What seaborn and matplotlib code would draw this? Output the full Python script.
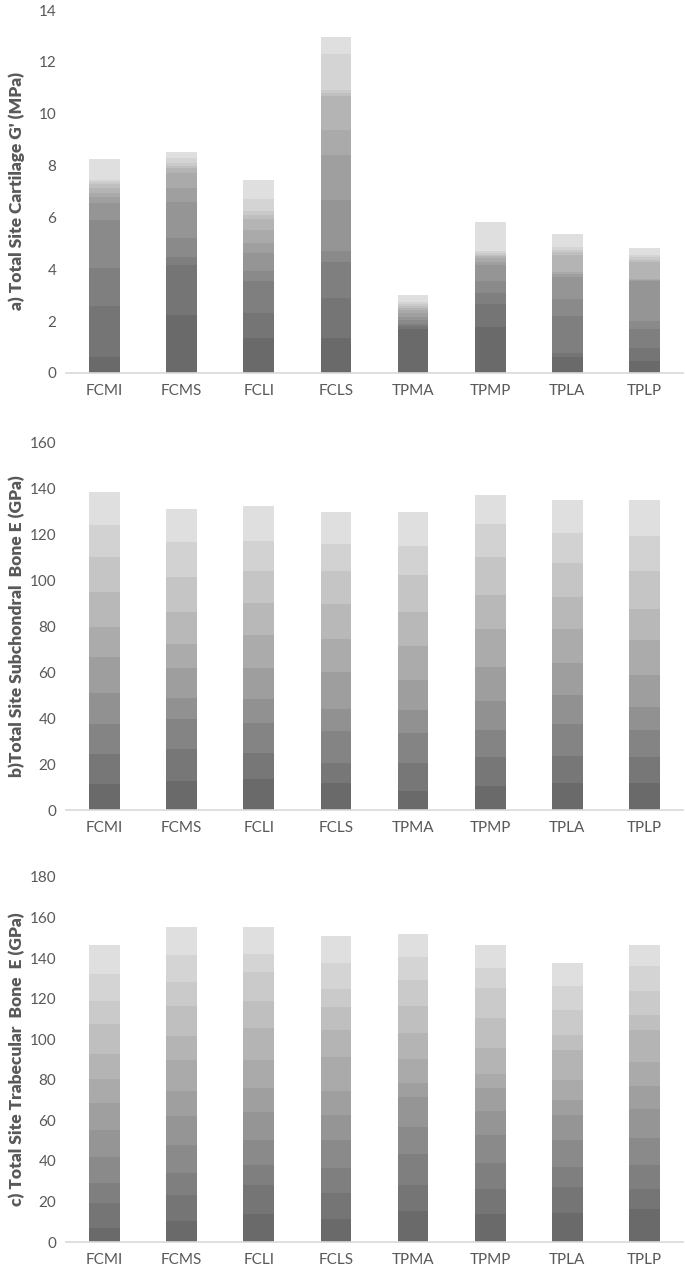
import numpy as np
import pandas as pd
import matplotlib
matplotlib.use("Agg")
import matplotlib.pyplot as plt
import seaborn as sns

sites = ["FCMI", "FCMS", "FCLI", "FCLS", "TPMA", "TPMP", "TPLA", "TPLP"]

# cumulative tops of each stacked layer, bottom layer first
cart_FCMI = [0.61, 2.60, 4.06, 5.89, 6.57, 6.79, 6.95, 7.13, 7.30, 7.37, 7.45, 8.25]
cart_FCMS = [2.24, 4.17, 4.49, 5.20, 6.58, 7.13, 7.71, 7.90, 8.00, 8.10, 8.30, 8.52]
cart_FCLI = [1.34, 2.33, 3.55, 3.92, 4.62, 5.01, 5.50, 5.95, 6.10, 6.23, 6.72, 7.45]
cart_FCLS = [1.34, 2.88, 4.27, 4.72, 6.68, 8.42, 9.36, 10.70, 10.80, 10.93, 12.32, 12.96]
cart_TPMA = [1.69, 1.80, 1.90, 2.05, 2.17, 2.30, 2.43, 2.52, 2.58, 2.65, 2.72, 3.01]
cart_TPMP = [1.79, 2.66, 3.10, 3.56, 4.17, 4.30, 4.43, 4.50, 4.56, 4.64, 4.72, 5.82]
cart_TPLA = [0.63, 0.78, 2.21, 2.86, 3.72, 3.82, 3.91, 4.56, 4.65, 4.75, 4.85, 5.37]
cart_TPLP = [0.47, 0.95, 1.70, 2.01, 3.55, 3.58, 3.62, 4.27, 4.35, 4.47, 4.55, 4.84]

sub_FCMI = [11.3, 24.4, 37.5, 50.9, 66.6, 79.7, 95.0, 110.1, 124.1, 138.5]
sub_FCMS = [12.7, 26.5, 39.6, 49.0, 62.1, 72.4, 86.3, 101.5, 116.7, 131.2]
sub_FCLI = [13.4, 25.0, 37.8, 48.3, 62.1, 76.5, 90.3, 104.1, 117.4, 132.4]
sub_FCLS = [11.9, 20.7, 34.5, 44.2, 60.1, 74.6, 89.7, 104.1, 116.0, 129.9]
sub_TPMA = [8.4, 20.7, 33.7, 43.6, 56.7, 71.3, 86.4, 102.3, 115.3, 129.9]
sub_TPMP = [10.6, 23.3, 34.9, 47.6, 62.5, 79.1, 93.7, 110.1, 124.7, 137.2]
sub_TPLA = [11.9, 23.6, 37.5, 50.2, 64.0, 79.1, 93.0, 107.5, 120.7, 135.3]
sub_TPLP = [11.9, 23.3, 34.9, 45.1, 58.8, 73.9, 87.7, 104.1, 119.4, 135.3]

trab_FCMI = [7.1, 19.0, 29.3, 41.7, 55.0, 68.6, 80.5, 92.6, 107.4, 118.7, 132.2, 146.3]
trab_FCMS = [10.2, 23.0, 34.2, 47.6, 62.0, 74.7, 89.6, 101.5, 116.5, 128.4, 141.3, 155.4]
trab_FCLI = [13.7, 27.9, 38.0, 50.4, 64.0, 76.0, 89.6, 105.3, 118.7, 133.0, 142.0, 155.4]
trab_FCLS = [11.2, 24.3, 36.4, 50.4, 62.6, 74.7, 91.1, 104.6, 115.7, 124.8, 137.5, 150.9]
trab_TPMA = [15.4, 27.9, 43.3, 56.7, 71.6, 78.2, 90.2, 103.0, 116.5, 129.3, 140.5, 151.7]
trab_TPMP = [13.7, 26.0, 39.2, 52.9, 64.8, 76.0, 82.8, 95.5, 110.6, 125.5, 135.2, 146.3]
trab_TPLA = [14.5, 27.3, 37.2, 50.4, 62.6, 69.9, 79.8, 94.7, 102.3, 114.2, 126.3, 137.5]
trab_TPLP = [16.2, 26.0, 38.0, 51.4, 65.6, 76.9, 88.8, 104.6, 112.0, 123.9, 136.0, 146.3]

cartilage = [cart_FCMI, cart_FCMS, cart_FCLI, cart_FCLS, cart_TPMA, cart_TPMP, cart_TPLA, cart_TPLP]
subchondral = [sub_FCMI, sub_FCMS, sub_FCLI, sub_FCLS, sub_TPMA, sub_TPMP, sub_TPLA, sub_TPLP]
trabecular = [trab_FCMI, trab_FCMS, trab_FCLI, trab_FCLS, trab_TPMA, trab_TPMP, trab_TPLA, trab_TPLP]

sns.set_style("white")
plt.rcParams['font.family'] = ['Lato', 'DejaVu Sans']

W, H = 685, 1274
fig = plt.figure(figsize=(W / 100, H / 100), dpi=100)

text_col = '#595959'


def stacked(ax, tops, ymax, step, label):
    tops = np.array(tops)
    n_layers = tops.shape[1]
    greys = np.linspace(0x6a, 0xdf, n_layers)
    # draw the tallest cumulative layer first, darker ones over it
    for k in range(n_layers - 1, -1, -1):
        g = int(round(greys[k]))
        df = pd.DataFrame({'site': sites, 'value': tops[:, k]})
        sns.barplot(data=df, x='site', y='value', order=sites, ax=ax,
                    color='#%02x%02x%02x' % (g, g, g), saturation=1,
                    width=0.4, edgecolor='none', linewidth=0)
    ax.set_ylim(0, ymax)
    ax.set_xlim(-0.5, len(sites) - 0.5)
    ax.set_yticks(np.arange(0, ymax + 0.01, step))
    ax.set_xlabel('')
    ax.set_ylabel(label, fontsize=12.5, fontweight='heavy', color=text_col)
    ax.yaxis.set_label_coords(-0.066, 0.5)
    for s in ['top', 'right', 'left']:
        ax.spines[s].set_visible(False)
    ax.spines['bottom'].set_color('#d9d9d9')
    ax.spines['bottom'].set_linewidth(1.2)
    ax.tick_params(axis='both', length=0, labelsize=11, colors=text_col)
    ax.tick_params(axis='x', pad=8)
    ax.tick_params(axis='y', pad=7)
    ax.grid(False)


left = 66 / W
width = (683 - 66) / W

ax1 = fig.add_axes([left, 1 - 373 / H, width, (373 - 10) / H])
stacked(ax1, cartilage, 14, 2, "a) Total Site Cartilage G' (MPa)")

ax2 = fig.add_axes([left, 1 - 810 / H, width, (810 - 443) / H])
stacked(ax2, subchondral, 160, 20, "b)Total Site Subchondral  Bone E (GPa)")

ax3 = fig.add_axes([left, 1 - 1242 / H, width, (1242 - 877) / H])
stacked(ax3, trabecular, 180, 20, "c) Total Site Trabecular  Bone  E (GPa)")

fig.savefig('out.png', dpi=100)
